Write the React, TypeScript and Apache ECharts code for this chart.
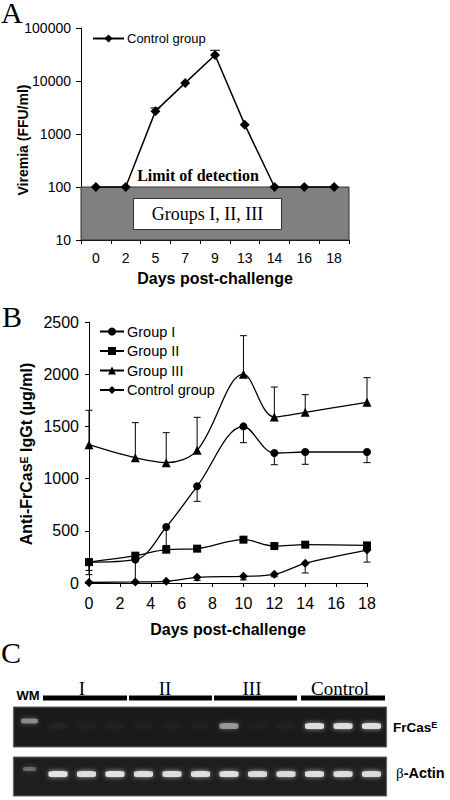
import React, { useEffect, useRef } from 'react';
import * as echarts from 'echarts';

// ---------- Panel A: viremia (log scale) ----------
const daysA = ['0', '2', '5', '7', '9', '13', '14', '16', '18'];
const viremiaControl = [100, 100, 2700, 9200, 31000, 1500, 100, 100, 100];
const viremiaSD = [0, 0, 400, 0, 7000, 0, 0, 0, 0];
const detectionLimit = 100;
const logMin = 10;
const logMax = 100000;

// ---------- Panel B: anti-FrCasE IgGt ----------
const daysB = [0, 3, 5, 7, 10, 12, 14, 18];
const groupI = [200, 224, 536, 926, 1500, 1245, 1255, 1255];
const groupISD = [120, 224, 176, 144, 156, 112, 118, 102]; // drawn downward
const groupII = [200, 262, 319, 329, 415, 354, 367, 360];
const groupIISD = [80, 0, 0, 0, 0, 0, 0, 0]; // drawn downward
const groupIII = [1325, 1200, 1153, 1271, 2000, 1590, 1635, 1731];
const groupIIISD = [329, 336, 287, 316, 369, 287, 169, 236]; // drawn upward
const controlB = [5, 10, 16, 54, 64, 83, 188, 315];
const controlBSD = [0, 0, 0, 29, 34, 23, 92, 115]; // drawn downward

// ---------- Panel C: gel lanes ----------
const laneNames = ['WM', 'I-1', 'I-2', 'I-3', 'II-1', 'II-2', 'II-3', 'III-1', 'III-2', 'III-3', 'Control-1', 'Control-2', 'Control-3'];
const frcasBand = [0.45, 0.03, 0.025, 0.025, 0.02, 0.025, 0.02, 0.5, 0.02, 0.025, 0.95, 0.95, 0.95];
const actinBand = [0.32, 1, 0.95, 1, 0.95, 0.95, 0.95, 0.95, 0.92, 0.92, 0.95, 0.95, 0.92];

const SANS = '"Liberation Sans", Arial, sans-serif';
const SERIF = '"Liberation Serif", "Times New Roman", serif';

const errorRender = (capHalf: number) => (_params: any, api: any) => {
  const x = api.value(0);
  const from = api.coord([x, api.value(1)]);
  const to = api.coord([x, api.value(2)]);
  const s = { stroke: '#000', lineWidth: 1 };
  return {
    type: 'group',
    children: [
      { type: 'line', shape: { x1: from[0], y1: from[1], x2: to[0], y2: to[1] }, style: s },
      { type: 'line', shape: { x1: to[0] - capHalf, y1: to[1], x2: to[0] + capHalf, y2: to[1] }, style: s },
    ],
  };
};

function buildErrB() {
  const out: number[][] = [];
  daysB.forEach((d, i) => {
    if (groupISD[i]) out.push([d, groupI[i], groupI[i] - groupISD[i]]);
    if (groupIISD[i]) out.push([d, groupII[i], groupII[i] - groupIISD[i]]);
    if (groupIIISD[i]) out.push([d, groupIII[i], groupIII[i] + groupIIISD[i]]);
    if (controlBSD[i]) out.push([d, controlB[i], controlB[i] - controlBSD[i]]);
  });
  return out;
}

function buildErrA() {
  const out: number[][] = [];
  viremiaSD.forEach((sd, i) => {
    if (sd) out.push([i, viremiaControl[i], viremiaControl[i] + sd]);
  });
  return out;
}

const axisLineStyle = { lineStyle: { color: '#000', width: 1 } };
const tickStyle = (len: number) => ({ show: true, length: len, lineStyle: { color: '#000', width: 1 } });

function bandSeries(name: string, values: number[], gi: number, rowShift: number, wmShift: number) {
  return {
    name,
    type: 'scatter',
    xAxisIndex: gi,
    yAxisIndex: gi,
    z: 5,
    silent: true,
    data: values.map((v, i) => ({
      value: [i, 0],
      symbolSize: i === 0 ? (gi === 3 ? [13, 4] : [17, 5]) : [19, 6],
      symbolOffset: [0, i === 0 ? wmShift : rowShift],
      itemStyle: { opacity: v },
    })),
    symbol: 'roundRect',
    itemStyle: {
      color: '#e4e4e4',
      shadowBlur: 5,
      shadowColor: 'rgba(235,235,235,0.7)',
    },
  };
}

function buildOption(): any {
  const letter = (t: string, x: number, y: number) => ({
    type: 'text', x, y, z: 50,
    style: { text: t, font: `30px ${SERIF}`, fill: '#000', verticalAlign: 'top', lineHeight: 21 },
  });
  return {
    animation: false,
    backgroundColor: '#fff',
    grid: [
      { left: 81, top: 28, width: 268, height: 212 },
      { left: 89, top: 322, width: 278, height: 261 },
      { left: 15.25, top: 707, width: 370.5, height: 40 },
      { left: 15.25, top: 757, width: 370.5, height: 39 },
    ],
    legend: [
      {
        left: 92, top: 32, itemWidth: 31, itemHeight: 10, itemGap: 5, padding: 0,
        selectedMode: false, data: ['Control group'],
        textStyle: { fontFamily: SANS, fontSize: 13, color: '#000', padding: [0, 0, 0, -2] },
      },
      {
        left: 99, top: 324, orient: 'vertical', itemWidth: 24, itemHeight: 10, itemGap: 4.5, padding: 0,
        selectedMode: false, data: ['Group I', 'Group II', 'Group III', 'Control group'],
        textStyle: { fontFamily: SANS, fontSize: 14.5, lineHeight: 15, color: '#000', padding: [0, 0, 0, -2] },
      },
    ],
    xAxis: [
      {
        type: 'category', gridIndex: 0, data: daysA, boundaryGap: true,
        axisLine: axisLineStyle, axisTick: tickStyle(4),
        axisLabel: { fontFamily: SANS, fontSize: 14, color: '#000', margin: 11 },
        name: 'Days post-challenge', nameLocation: 'middle', nameGap: 30,
        nameTextStyle: { fontFamily: SANS, fontWeight: 'bold', fontSize: 16, color: '#000' },
      },
      {
        type: 'value', gridIndex: 1, min: 0, max: 18, interval: 2,
        axisLine: axisLineStyle, axisTick: tickStyle(4), splitLine: { show: false },
        axisLabel: { fontFamily: SANS, fontSize: 16, color: '#000', margin: 12 },
        name: 'Days post-challenge', nameLocation: 'middle', nameGap: 38,
        nameTextStyle: { fontFamily: SANS, fontWeight: 'bold', fontSize: 16, color: '#000' },
      },
      { type: 'category', gridIndex: 2, data: laneNames, show: false },
      { type: 'category', gridIndex: 3, data: laneNames, show: false },
    ],
    yAxis: [
      {
        type: 'log', gridIndex: 0, logBase: 10, min: logMin, max: logMax,
        axisLine: { show: true, ...axisLineStyle }, axisTick: tickStyle(5), splitLine: { show: false },
        axisLabel: { fontFamily: SANS, fontSize: 14, color: '#000', margin: 10, formatter: (v: number) => String(Math.round(v)) },
      },
      {
        type: 'value', gridIndex: 1, min: 0, max: 2500, interval: 500,
        axisLine: { show: true, ...axisLineStyle }, axisTick: tickStyle(4), splitLine: { show: false },
        axisLabel: { fontFamily: SANS, fontSize: 16, color: '#000', margin: 10, formatter: (v: number) => String(v) },
      },
      { type: 'value', gridIndex: 2, min: -1, max: 1, show: false },
      { type: 'value', gridIndex: 3, min: -1, max: 1, show: false },
    ],
    series: [
      {
        name: 'Control group', type: 'line', xAxisIndex: 0, yAxisIndex: 0,
        data: viremiaControl, symbol: 'diamond', symbolSize: 10, z: 4,
        itemStyle: { color: '#000' }, lineStyle: { color: '#000', width: 1.5 },
        markArea: {
          silent: true,
          itemStyle: { color: '#808080', borderColor: '#333', borderWidth: 1 },
          data: [[{ yAxis: logMin }, { yAxis: detectionLimit }]],
        },
      },
      {
        type: 'custom', xAxisIndex: 0, yAxisIndex: 0, z: 3, silent: true,
        renderItem: errorRender(5), encode: { x: 0, y: [1, 2] }, data: buildErrA(),
      },
      {
        name: 'Group I', type: 'line', xAxisIndex: 1, yAxisIndex: 1, smooth: 0.35,
        data: daysB.map((d, i) => [d, groupI[i]]), symbol: 'circle', symbolSize: 8,
        itemStyle: { color: '#000' }, lineStyle: { color: '#000', width: 1.3 },
      },
      {
        name: 'Group II', type: 'line', xAxisIndex: 1, yAxisIndex: 1, smooth: 0.35,
        data: daysB.map((d, i) => [d, groupII[i]]), symbol: 'rect', symbolSize: 8,
        itemStyle: { color: '#000' }, lineStyle: { color: '#000', width: 1.3 },
      },
      {
        name: 'Group III', type: 'line', xAxisIndex: 1, yAxisIndex: 1, smooth: 0.35,
        data: daysB.map((d, i) => [d, groupIII[i]]), symbol: 'triangle', symbolSize: 9,
        itemStyle: { color: '#000' }, lineStyle: { color: '#000', width: 1.3 },
      },
      {
        name: 'Control group', type: 'line', xAxisIndex: 1, yAxisIndex: 1, smooth: 0.35,
        data: daysB.map((d, i) => [d, controlB[i]]), symbol: 'diamond', symbolSize: 9,
        itemStyle: { color: '#000' }, lineStyle: { color: '#000', width: 1.3 },
      },
      {
        type: 'custom', xAxisIndex: 1, yAxisIndex: 1, z: 3, silent: true, clip: false,
        renderItem: errorRender(3.5), encode: { x: 0, y: [1, 2] }, data: buildErrB(),
      },
      bandSeries('FrCasE band', frcasBand, 2, -1, -6),
      bandSeries('Actin band', actinBand, 3, -2.5, -7.5),
    ],
    graphic: [
      // panel letters
      letter('A', 1, 2),
      letter('B', 2, 305.5),
      letter('C', 1, 641.5),
      // y-axis titles
      {
        type: 'text', x: 22.5, y: 140, rotation: Math.PI / 2, z: 50,
        style: { text: 'Viremia (FFU/ml)', font: `bold 14px ${SANS}`, fill: '#000', align: 'center', verticalAlign: 'middle' },
      },
      {
        type: 'text', x: 26.5, y: 454, rotation: Math.PI / 2, z: 50,
        style: {
          text: '{a|Anti-FrCas}{s|E}{a| IgGt (µg/ml)}',
          align: 'center', verticalAlign: 'middle',
          rich: {
            a: { font: `bold 16px ${SANS}`, fill: '#000' },
            s: { font: `bold 10.5px ${SANS}`, fill: '#000', verticalAlign: 'top' },
          },
        },
      },
      // panel A annotations
      { type: 'text', x: 198, y: 175, z: 50, style: { text: 'Limit of detection', font: `bold 16px ${SERIF}`, fill: '#000', align: 'center', verticalAlign: 'middle' } },
      { type: 'rect', z: 50, shape: { x: 133.5, y: 198.5, width: 148, height: 31 }, style: { fill: '#fff', stroke: '#333', lineWidth: 1 } },
      { type: 'text', x: 207.5, y: 214, z: 51, style: { text: 'Groups I, II, III', font: `18px ${SERIF}`, fill: '#000', align: 'center', verticalAlign: 'middle' } },
      // panel C headers
      { type: 'text', x: 28, y: 695, z: 50, style: { text: 'WM', font: `bold 13px ${SANS}`, fill: '#000', align: 'center', verticalAlign: 'middle' } },
      { type: 'rect', z: 50, shape: { x: 43, y: 695.5, width: 84, height: 5 }, style: { fill: '#000' } },
      { type: 'rect', z: 50, shape: { x: 129, y: 695.5, width: 83, height: 5 }, style: { fill: '#000' } },
      { type: 'rect', z: 50, shape: { x: 214, y: 695.5, width: 83, height: 5 }, style: { fill: '#000' } },
      { type: 'rect', z: 50, shape: { x: 301, y: 695.5, width: 84, height: 5 }, style: { fill: '#000' } },
      { type: 'text', x: 82, y: 688, z: 50, style: { text: 'I', font: `19px ${SERIF}`, fill: '#000', align: 'center', verticalAlign: 'middle' } },
      { type: 'text', x: 165, y: 688, z: 50, style: { text: 'II', font: `19px ${SERIF}`, fill: '#000', align: 'center', verticalAlign: 'middle' } },
      { type: 'text', x: 252, y: 688, z: 50, style: { text: 'III', font: `19px ${SERIF}`, fill: '#000', align: 'center', verticalAlign: 'middle' } },
      { type: 'text', x: 340, y: 688, z: 50, style: { text: 'Control', font: `19px ${SERIF}`, fill: '#000', align: 'center', verticalAlign: 'middle' } },
      // gels
      { type: 'rect', z: 0, shape: { x: 13.5, y: 707, width: 373, height: 40 }, style: { fill: '#1a1a1a', stroke: '#666', lineWidth: 1.2 } },
      { type: 'rect', z: 0, shape: { x: 13.5, y: 757, width: 373, height: 39 }, style: { fill: '#1e1e1e', stroke: '#666', lineWidth: 1.2 } },
      {
        type: 'text', x: 393, y: 727, z: 50,
        style: {
          text: '{a|FrCas}{s|E}',
          verticalAlign: 'middle',
          rich: {
            a: { font: `bold 13.5px ${SANS}`, fill: '#000' },
            s: { font: `bold 9px ${SANS}`, fill: '#000', verticalAlign: 'top' },
          },
        },
      },
      {
        type: 'text', x: 396, y: 773, z: 50,
        style: {
          text: '{g|β}{a|-Actin}',
          verticalAlign: 'middle',
          rich: {
            g: { font: `15px ${SERIF}`, fill: '#000' },
            a: { font: `bold 14.5px ${SANS}`, fill: '#000' },
          },
        },
      },
    ],
  };
}

export default function App() {
  const ref = useRef<HTMLDivElement>(null);
  useEffect(() => {
    if (!ref.current) return;
    const chart = echarts.init(ref.current, undefined, { renderer: 'svg' });
    chart.setOption(buildOption());
    return () => chart.dispose();
  }, []);
  return (
    <div
      ref={ref}
      style={{ position: 'absolute', left: 0, top: 0, width: 450, height: 800, background: '#fff' }}
    />
  );
}
